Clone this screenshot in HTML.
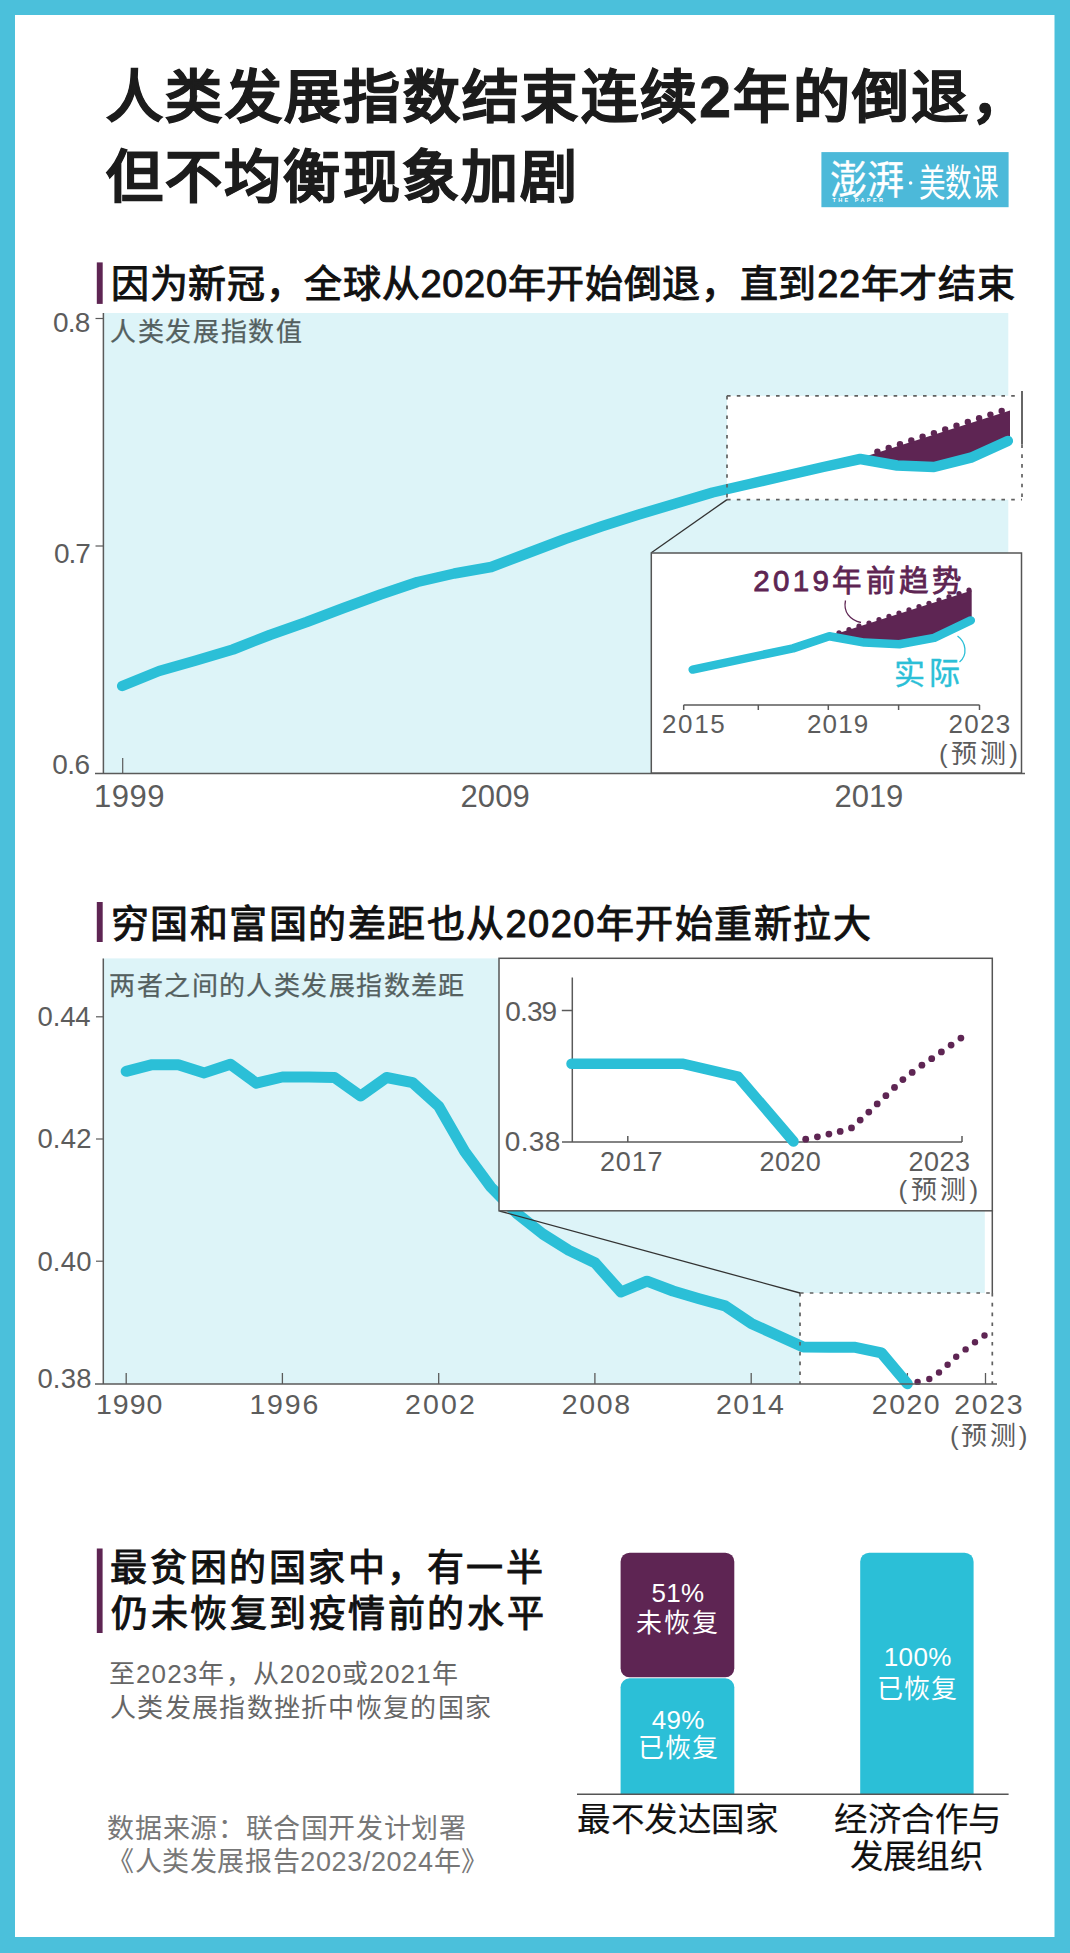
<!DOCTYPE html>
<html lang="zh-CN"><head><meta charset="utf-8"><title>人类发展指数结束连续2年的倒退</title>
<style>html,body{margin:0;padding:0;background:#fff;width:1070px;height:1953px;overflow:hidden}
svg{display:block;font-family:"Liberation Sans",sans-serif}</style></head>
<body><svg width="1070" height="1953" viewBox="0 0 1070 1953">
<rect x="0" y="0" width="1070" height="1953" fill="#4bc0db"/>
<rect x="15" y="15" width="1039.5" height="1922" fill="#fff"/>
<rect x="821.4" y="152.1" width="187.2" height="55.1" fill="#4cb9d9"/>
<text x="0" y="0" font-size="40" fill="#fff" transform="matrix(0.93,0,0,1,829.5,194)" stroke="#fff" stroke-width="0.3">澎湃</text>
<circle cx="910.6" cy="183" r="1.8" fill="#fff"/>
<text x="0" y="0" font-size="38" fill="#fff" transform="matrix(0.70,0,0,1,918.5,195.5)">美数课</text>
<text x="832.4" y="202" font-size="5.5" font-weight="bold" fill="#fff" textLength="50.6" lengthAdjust="spacing">THE PAPER</text>
<rect x="103.4" y="313" width="904.9" height="460.5" fill="#ddf4f8"/>
<rect x="727" y="395.8" width="295" height="103.8" fill="#fff"/>
<line x1="103.4" y1="313.0" x2="103.4" y2="773.5" stroke="#5a5a5a" stroke-width="1.5"/>
<line x1="95.5" y1="318.5" x2="103.4" y2="318.5" stroke="#5a5a5a" stroke-width="1.2"/>
<line x1="95.5" y1="546.0" x2="103.4" y2="546.0" stroke="#5a5a5a" stroke-width="1.2"/>
<line x1="122.7" y1="758.0" x2="122.7" y2="773.5" stroke="#5a5a5a" stroke-width="1.2"/>
<polygon points="862.2,457.5 1010.0,410.5 1010.0,441.0 970.9,457.7 934.0,467.0 897.1,465.5 860.2,459.0" fill="#5e2553"/>
<circle cx="877.4" cy="451.6" r="3.2" fill="#5e2553"/>
<circle cx="888.7" cy="447.9" r="3.2" fill="#5e2553"/>
<circle cx="900.0" cy="444.2" r="3.2" fill="#5e2553"/>
<circle cx="911.3" cy="440.5" r="3.2" fill="#5e2553"/>
<circle cx="922.6" cy="436.8" r="3.2" fill="#5e2553"/>
<circle cx="933.9" cy="433.1" r="3.2" fill="#5e2553"/>
<circle cx="945.2" cy="429.4" r="3.2" fill="#5e2553"/>
<circle cx="956.5" cy="425.7" r="3.2" fill="#5e2553"/>
<circle cx="967.8" cy="422.0" r="3.2" fill="#5e2553"/>
<circle cx="979.1" cy="418.3" r="3.2" fill="#5e2553"/>
<circle cx="990.4" cy="414.6" r="3.2" fill="#5e2553"/>
<circle cx="1001.7" cy="410.9" r="3.2" fill="#5e2553"/>
<polyline points="122.2,686.0 159.1,671.0 196.0,660.5 232.9,649.5 269.8,635.0 306.7,622.0 343.6,608.0 380.5,594.5 417.4,582.0 454.3,573.5 491.2,567.0 528.1,553.0 565.0,539.0 601.9,526.3 638.8,514.5 675.7,503.5 712.6,492.5 749.5,484.0 786.4,475.5 823.3,467.0 860.2,459.0 897.1,465.5 934.0,467.0 970.9,457.7 1007.8,441.0" fill="none" stroke="#2bbfd7" stroke-width="10.5" stroke-linecap="round" stroke-linejoin="round"/>
<line x1="95.0" y1="773.5" x2="1025.0" y2="773.5" stroke="#5a5a5a" stroke-width="1.5"/>
<line x1="727.0" y1="395.8" x2="1022.0" y2="395.8" stroke="#606060" stroke-width="1.7" stroke-dasharray="3.6,6.2"/>
<line x1="727.0" y1="499.6" x2="1022.0" y2="499.6" stroke="#606060" stroke-width="1.7" stroke-dasharray="3.6,6.2"/>
<line x1="727.0" y1="395.8" x2="727.0" y2="499.6" stroke="#606060" stroke-width="1.7" stroke-dasharray="3.6,6.2"/>
<line x1="1022.0" y1="444.5" x2="1022.0" y2="499.6" stroke="#606060" stroke-width="1.7" stroke-dasharray="3.6,6.2"/>
<line x1="1022.0" y1="391.0" x2="1022.0" y2="444.5" stroke="#666" stroke-width="2"/>
<line x1="727.0" y1="499.6" x2="651.3" y2="552.8" stroke="#333" stroke-width="1.3"/>
<rect x="651.3" y="553" width="370.2" height="220" fill="#fff" stroke="#555" stroke-width="1.5"/>
<line x1="683.7" y1="704.9" x2="979.5" y2="704.9" stroke="#5a5a5a" stroke-width="1.5"/>
<line x1="683.7" y1="704.9" x2="683.7" y2="710.0" stroke="#5a5a5a" stroke-width="1.5"/>
<line x1="758.3" y1="704.9" x2="758.3" y2="710.0" stroke="#5a5a5a" stroke-width="1.5"/>
<line x1="828.3" y1="704.9" x2="828.3" y2="710.0" stroke="#5a5a5a" stroke-width="1.5"/>
<line x1="898.6" y1="704.9" x2="898.6" y2="710.0" stroke="#5a5a5a" stroke-width="1.5"/>
<line x1="979.5" y1="704.9" x2="979.5" y2="710.0" stroke="#5a5a5a" stroke-width="1.5"/>
<polygon points="831.0,635.5 971.7,590.5 971.7,620.4 934.2,637.9 899.3,644.2 864.3,642.6" fill="#5e2553"/>
<circle cx="839.0" cy="632.8" r="2.6" fill="#5e2553"/>
<circle cx="849.0" cy="629.5" r="2.6" fill="#5e2553"/>
<circle cx="859.0" cy="626.2" r="2.6" fill="#5e2553"/>
<circle cx="869.0" cy="623.0" r="2.6" fill="#5e2553"/>
<circle cx="879.0" cy="619.7" r="2.6" fill="#5e2553"/>
<circle cx="889.0" cy="616.4" r="2.6" fill="#5e2553"/>
<circle cx="899.0" cy="613.1" r="2.6" fill="#5e2553"/>
<circle cx="909.0" cy="609.9" r="2.6" fill="#5e2553"/>
<circle cx="919.0" cy="606.6" r="2.6" fill="#5e2553"/>
<circle cx="929.0" cy="603.3" r="2.6" fill="#5e2553"/>
<circle cx="939.0" cy="600.0" r="2.6" fill="#5e2553"/>
<circle cx="949.0" cy="596.8" r="2.6" fill="#5e2553"/>
<circle cx="959.0" cy="593.5" r="2.6" fill="#5e2553"/>
<circle cx="969.0" cy="590.2" r="2.6" fill="#5e2553"/>
<polyline points="692.7,669.6 793.0,648.4 829.3,636.3 864.3,642.6 899.3,644.2 934.2,637.9 970.8,620.4" fill="none" stroke="#2bbfd7" stroke-width="8.5" stroke-linecap="round" stroke-linejoin="round"/>
<path d="M845.5,600.5 C843,612 850,620 861,622.5" fill="none" stroke="#5e2553" stroke-width="1.3"/>
<path d="M957.5,636 C966,642 968,655 959.5,662" fill="none" stroke="#2bbfd7" stroke-width="1.3"/>
<rect x="103.3" y="958.4" width="881.5" height="425.6" fill="#ddf4f8"/>
<rect x="800" y="1293" width="192.3" height="91" fill="#fff"/>
<line x1="103.3" y1="958.4" x2="103.3" y2="1384.0" stroke="#5a5a5a" stroke-width="1.5"/>
<line x1="96.0" y1="1016.8" x2="103.3" y2="1016.8" stroke="#5a5a5a" stroke-width="1.2"/>
<line x1="96.0" y1="1139.0" x2="103.3" y2="1139.0" stroke="#5a5a5a" stroke-width="1.2"/>
<line x1="96.0" y1="1261.2" x2="103.3" y2="1261.2" stroke="#5a5a5a" stroke-width="1.2"/>
<line x1="126.2" y1="1373.0" x2="126.2" y2="1384.0" stroke="#5a5a5a" stroke-width="1.3"/>
<line x1="282.4" y1="1373.0" x2="282.4" y2="1384.0" stroke="#5a5a5a" stroke-width="1.3"/>
<line x1="438.7" y1="1373.0" x2="438.7" y2="1384.0" stroke="#5a5a5a" stroke-width="1.3"/>
<line x1="594.9" y1="1373.0" x2="594.9" y2="1384.0" stroke="#5a5a5a" stroke-width="1.3"/>
<line x1="751.2" y1="1373.0" x2="751.2" y2="1384.0" stroke="#5a5a5a" stroke-width="1.3"/>
<line x1="907.4" y1="1373.0" x2="907.4" y2="1384.0" stroke="#5a5a5a" stroke-width="1.3"/>
<line x1="985.5" y1="1373.0" x2="985.5" y2="1384.0" stroke="#5a5a5a" stroke-width="1.3"/>
<polyline points="126.2,1071.3 152.2,1064.7 178.3,1064.7 204.3,1072.9 230.4,1064.3 256.4,1083.2 282.4,1077.0 308.5,1077.0 334.5,1077.5 360.6,1095.9 386.6,1077.5 412.6,1082.6 438.7,1106.3 464.7,1151.5 490.8,1187.0 516.8,1213.4 542.8,1234.0 568.9,1250.4 594.9,1262.7 621.0,1292.0 647.0,1281.2 673.0,1291.0 699.1,1298.7 725.1,1305.9 751.2,1323.4 777.2,1335.3 803.2,1347.1 829.3,1347.2 855.3,1347.3 881.4,1352.9 907.4,1383.7" fill="none" stroke="#2bbfd7" stroke-width="11" stroke-linecap="round" stroke-linejoin="round"/>
<circle cx="917.6" cy="1381.9" r="3.2" fill="#5e2553"/>
<circle cx="929.3" cy="1379" r="3.2" fill="#5e2553"/>
<circle cx="939" cy="1372.5" r="3.2" fill="#5e2553"/>
<circle cx="947.6" cy="1364.7" r="3.2" fill="#5e2553"/>
<circle cx="956.2" cy="1356.8" r="3.2" fill="#5e2553"/>
<circle cx="965.6" cy="1349.4" r="3.2" fill="#5e2553"/>
<circle cx="975" cy="1342.2" r="3.2" fill="#5e2553"/>
<circle cx="984.5" cy="1335.5" r="3.2" fill="#5e2553"/>
<line x1="95.0" y1="1384.0" x2="997.0" y2="1384.0" stroke="#5a5a5a" stroke-width="1.5"/>
<line x1="800.0" y1="1293.0" x2="992.3" y2="1293.0" stroke="#606060" stroke-width="1.7" stroke-dasharray="3.6,6.2"/>
<line x1="800.0" y1="1293.0" x2="800.0" y2="1384.0" stroke="#606060" stroke-width="1.7" stroke-dasharray="3.6,6.2"/>
<line x1="992.3" y1="1293.0" x2="992.3" y2="1384.0" stroke="#606060" stroke-width="1.7" stroke-dasharray="3.6,6.2"/>
<line x1="499.5" y1="1211.0" x2="800.0" y2="1293.0" stroke="#333" stroke-width="1.3"/>
<rect x="499" y="958.3" width="493.3" height="252.5" fill="#fff" stroke="#555" stroke-width="1.5"/>
<line x1="992.3" y1="1210.0" x2="992.3" y2="1293.0" stroke="#555" stroke-width="1.5"/>
<line x1="572.3" y1="977.5" x2="572.3" y2="1142.0" stroke="#5a5a5a" stroke-width="1.5"/>
<line x1="562.0" y1="1142.0" x2="962.0" y2="1142.0" stroke="#5a5a5a" stroke-width="1.5"/>
<line x1="561.8" y1="1010.5" x2="572.3" y2="1010.5" stroke="#5a5a5a" stroke-width="1.5"/>
<line x1="627.8" y1="1136.0" x2="627.8" y2="1142.0" stroke="#5a5a5a" stroke-width="1.5"/>
<line x1="793.5" y1="1136.0" x2="793.5" y2="1142.0" stroke="#5a5a5a" stroke-width="1.5"/>
<line x1="962.0" y1="1136.0" x2="962.0" y2="1142.0" stroke="#5a5a5a" stroke-width="1.5"/>
<polyline points="571.5,1063.8 683.3,1063.8 738.0,1076.6 793.5,1141.5" fill="none" stroke="#2bbfd7" stroke-width="10.5" stroke-linecap="round" stroke-linejoin="round"/>
<circle cx="805.7" cy="1139.2" r="3.4" fill="#5e2553"/>
<circle cx="817.4" cy="1136.8" r="3.4" fill="#5e2553"/>
<circle cx="828.9" cy="1134.1" r="3.4" fill="#5e2553"/>
<circle cx="840.2" cy="1131.4" r="3.4" fill="#5e2553"/>
<circle cx="851.5" cy="1127.9" r="3.4" fill="#5e2553"/>
<circle cx="860.2" cy="1120.1" r="3.4" fill="#5e2553"/>
<circle cx="868.8" cy="1112.1" r="3.4" fill="#5e2553"/>
<circle cx="877.2" cy="1103.9" r="3.4" fill="#5e2553"/>
<circle cx="885.9" cy="1095.7" r="3.4" fill="#5e2553"/>
<circle cx="894.5" cy="1087.4" r="3.4" fill="#5e2553"/>
<circle cx="902.9" cy="1079.6" r="3.4" fill="#5e2553"/>
<circle cx="912.2" cy="1072.4" r="3.4" fill="#5e2553"/>
<circle cx="921.9" cy="1065.2" r="3.4" fill="#5e2553"/>
<circle cx="931.7" cy="1058.7" r="3.4" fill="#5e2553"/>
<circle cx="941.4" cy="1051.9" r="3.4" fill="#5e2553"/>
<circle cx="951.1" cy="1045.1" r="3.4" fill="#5e2553"/>
<circle cx="960.9" cy="1038.1" r="3.4" fill="#5e2553"/>
<rect x="96.8" y="262.4" width="5.9" height="41.5" fill="#5e2553"/>
<rect x="96.8" y="902" width="5.9" height="40" fill="#5e2553"/>
<rect x="96.8" y="1548.5" width="5.8" height="84.5" fill="#5e2553"/>
<path d="M620.6,1794.2 V1687.3 a9,9 0 0 1 9,-9 H725.3 a9,9 0 0 1 9,9 V1794.2 Z" fill="#2bbfd7"/>
<rect x="620.6" y="1552.7" width="113.7" height="124.6" rx="9" fill="#5e2553"/>
<path d="M860.2,1794.2 V1561.7 a9,9 0 0 1 9,-9 H964.6 a9,9 0 0 1 9,9 V1794.2 Z" fill="#2bbfd7"/>
<line x1="577.0" y1="1794.2" x2="1008.6" y2="1794.2" stroke="#555" stroke-width="1.5"/>
<text x="106.00" y="117.31" font-size="57" font-weight="bold" fill="#1c1c1c" stroke="#1c1c1c" stroke-width="0.9" textLength="921.70" lengthAdjust="spacing">人类发展指数结束连续2年的倒退，</text>
<text x="106.00" y="197.31" font-size="57" font-weight="bold" fill="#1c1c1c" stroke="#1c1c1c" stroke-width="0.9" textLength="471.00" lengthAdjust="spacing">但不均衡现象加剧</text>
<text x="111.00" y="296.54" font-size="38" font-weight="normal" fill="#111111" stroke="#111111" stroke-width="1.0" textLength="903.81" lengthAdjust="spacing">因为新冠，全球从2020年开始倒退，直到22年才结束</text>
<text x="110.00" y="340.58" font-size="26" font-weight="normal" fill="#54605f" stroke="#54605f" stroke-width="0.25" textLength="192.00" lengthAdjust="spacing">人类发展指数值</text>
<text x="53.00" y="332.24" font-size="28" font-weight="normal" fill="#5c5c5c" textLength="37.44" lengthAdjust="spacing">0.8</text>
<text x="54.00" y="562.84" font-size="28" font-weight="normal" fill="#5c5c5c" textLength="36.94" lengthAdjust="spacing">0.7</text>
<text x="52.20" y="774.04" font-size="28" font-weight="normal" fill="#5c5c5c" textLength="37.94" lengthAdjust="spacing">0.6</text>
<text x="94.00" y="806.73" font-size="31" font-weight="normal" fill="#5c5c5c" textLength="70.47" lengthAdjust="spacing">1999</text>
<text x="460.40" y="806.73" font-size="31" font-weight="normal" fill="#5c5c5c" textLength="69.47" lengthAdjust="spacing">2009</text>
<text x="834.40" y="806.73" font-size="31" font-weight="normal" fill="#5c5c5c" textLength="68.97" lengthAdjust="spacing">2019</text>
<text x="753.20" y="591.47" font-size="29.5" font-weight="normal" fill="#5e2553" stroke="#5e2553" stroke-width="0.8" textLength="209.02" lengthAdjust="spacing">2019年前趋势</text>
<text x="894.00" y="684.23" font-size="31" font-weight="normal" fill="#2bbfd7" stroke="#2bbfd7" stroke-width="0.4" textLength="66.00" lengthAdjust="spacing">实际</text>
<text x="662.00" y="732.98" font-size="26" font-weight="normal" fill="#5c5c5c" textLength="62.84" lengthAdjust="spacing">2015</text>
<text x="807.00" y="732.98" font-size="26" font-weight="normal" fill="#5c5c5c" textLength="61.34" lengthAdjust="spacing">2019</text>
<text x="948.40" y="732.98" font-size="26" font-weight="normal" fill="#5c5c5c" textLength="61.84" lengthAdjust="spacing">2023</text>
<text x="939.00" y="762.58" font-size="26" font-weight="normal" fill="#5c5c5c" textLength="78.83" lengthAdjust="spacing">(预测)</text>
<text x="111.00" y="937.04" font-size="38" font-weight="normal" fill="#111111" stroke="#111111" stroke-width="1.0" textLength="759.55" lengthAdjust="spacing">穷国和富国的差距也从2020年开始重新拉大</text>
<text x="109.40" y="995.08" font-size="26" font-weight="normal" fill="#54605f" stroke="#54605f" stroke-width="0.25" textLength="355.00" lengthAdjust="spacing">两者之间的人类发展指数差距</text>
<text x="37.60" y="1025.62" font-size="27.5" font-weight="normal" fill="#5c5c5c" textLength="53.03" lengthAdjust="spacing">0.44</text>
<text x="37.40" y="1147.83" font-size="27.5" font-weight="normal" fill="#5c5c5c" textLength="54.03" lengthAdjust="spacing">0.42</text>
<text x="37.40" y="1271.23" font-size="27.5" font-weight="normal" fill="#5c5c5c" textLength="54.03" lengthAdjust="spacing">0.40</text>
<text x="37.40" y="1388.03" font-size="27.5" font-weight="normal" fill="#5c5c5c" textLength="54.03" lengthAdjust="spacing">0.38</text>
<text x="96.00" y="1414.06" font-size="28.5" font-weight="normal" fill="#5c5c5c" textLength="66.41" lengthAdjust="spacing">1990</text>
<text x="249.40" y="1414.06" font-size="28.5" font-weight="normal" fill="#5c5c5c" textLength="68.91" lengthAdjust="spacing">1996</text>
<text x="405.00" y="1414.06" font-size="28.5" font-weight="normal" fill="#5c5c5c" textLength="69.91" lengthAdjust="spacing">2002</text>
<text x="561.80" y="1413.86" font-size="28.5" font-weight="normal" fill="#5c5c5c" textLength="68.41" lengthAdjust="spacing">2008</text>
<text x="716.00" y="1413.86" font-size="28.5" font-weight="normal" fill="#5c5c5c" textLength="67.91" lengthAdjust="spacing">2014</text>
<text x="871.80" y="1413.86" font-size="28.5" font-weight="normal" fill="#5c5c5c" textLength="67.91" lengthAdjust="spacing">2020</text>
<text x="954.20" y="1413.86" font-size="28.5" font-weight="normal" fill="#5c5c5c" textLength="68.41" lengthAdjust="spacing">2023</text>
<text x="950.00" y="1444.58" font-size="26" font-weight="normal" fill="#5c5c5c" textLength="77.33" lengthAdjust="spacing">(预测)</text>
<text x="505.20" y="1021.04" font-size="28" font-weight="normal" fill="#5c5c5c" textLength="52.00" lengthAdjust="spacing">0.39</text>
<text x="504.80" y="1151.44" font-size="28" font-weight="normal" fill="#5c5c5c" textLength="55.50" lengthAdjust="spacing">0.38</text>
<text x="600.00" y="1170.81" font-size="27" font-weight="normal" fill="#5c5c5c" textLength="62.58" lengthAdjust="spacing">2017</text>
<text x="759.60" y="1170.81" font-size="27" font-weight="normal" fill="#5c5c5c" textLength="61.08" lengthAdjust="spacing">2020</text>
<text x="908.40" y="1170.81" font-size="27" font-weight="normal" fill="#5c5c5c" textLength="61.58" lengthAdjust="spacing">2023</text>
<text x="898.40" y="1198.58" font-size="26" font-weight="normal" fill="#5c5c5c" textLength="79.83" lengthAdjust="spacing">(预测)</text>
<text x="110.40" y="1580.91" font-size="37" font-weight="normal" fill="#111111" stroke="#111111" stroke-width="1.0" textLength="432.50" lengthAdjust="spacing">最贫困的国家中，有一半</text>
<text x="111.00" y="1627.11" font-size="37" font-weight="normal" fill="#111111" stroke="#111111" stroke-width="1.0" textLength="432.50" lengthAdjust="spacing">仍未恢复到疫情前的水平</text>
<text x="108.80" y="1683.48" font-size="26" font-weight="normal" fill="#666666" textLength="349.03" lengthAdjust="spacing">至2023年，从2020或2021年</text>
<text x="110.00" y="1717.08" font-size="26" font-weight="normal" fill="#666666" textLength="381.00" lengthAdjust="spacing">人类发展指数挫折中恢复的国家</text>
<text x="107.40" y="1837.91" font-size="27" font-weight="normal" fill="#777777" textLength="358.50" lengthAdjust="spacing">数据来源：联合国开发计划署</text>
<text x="107.00" y="1870.91" font-size="27" font-weight="normal" fill="#777777" textLength="381.14" lengthAdjust="spacing">《人类发展报告2023/2024年》</text>
<text x="651.60" y="1601.58" font-size="26" font-weight="normal" fill="#ffffff" textLength="52.55" lengthAdjust="spacing">51%</text>
<text x="635.60" y="1631.88" font-size="26" font-weight="normal" fill="#ffffff" textLength="82.00" lengthAdjust="spacing">未恢复</text>
<text x="651.80" y="1728.58" font-size="26" font-weight="normal" fill="#ffffff" textLength="52.55" lengthAdjust="spacing">49%</text>
<text x="637.60" y="1757.48" font-size="26" font-weight="normal" fill="#ffffff" textLength="80.00" lengthAdjust="spacing">已恢复</text>
<text x="883.80" y="1666.18" font-size="26" font-weight="normal" fill="#ffffff" textLength="67.50" lengthAdjust="spacing">100%</text>
<text x="877.00" y="1697.68" font-size="26" font-weight="normal" fill="#ffffff" textLength="80.00" lengthAdjust="spacing">已恢复</text>
<text x="577.40" y="1830.81" font-size="33.5" font-weight="normal" fill="#111111" stroke="#111111" stroke-width="0.15" textLength="200.50" lengthAdjust="spacing">最不发达国家</text>
<text x="834.00" y="1831.01" font-size="33.5" font-weight="normal" fill="#111111" stroke="#111111" stroke-width="0.15" textLength="167.00" lengthAdjust="spacing">经济合作与</text>
<text x="850.00" y="1868.40" font-size="33.5" font-weight="normal" fill="#111111" stroke="#111111" stroke-width="0.15" textLength="132.50" lengthAdjust="spacing">发展组织</text>
</svg></body></html>
